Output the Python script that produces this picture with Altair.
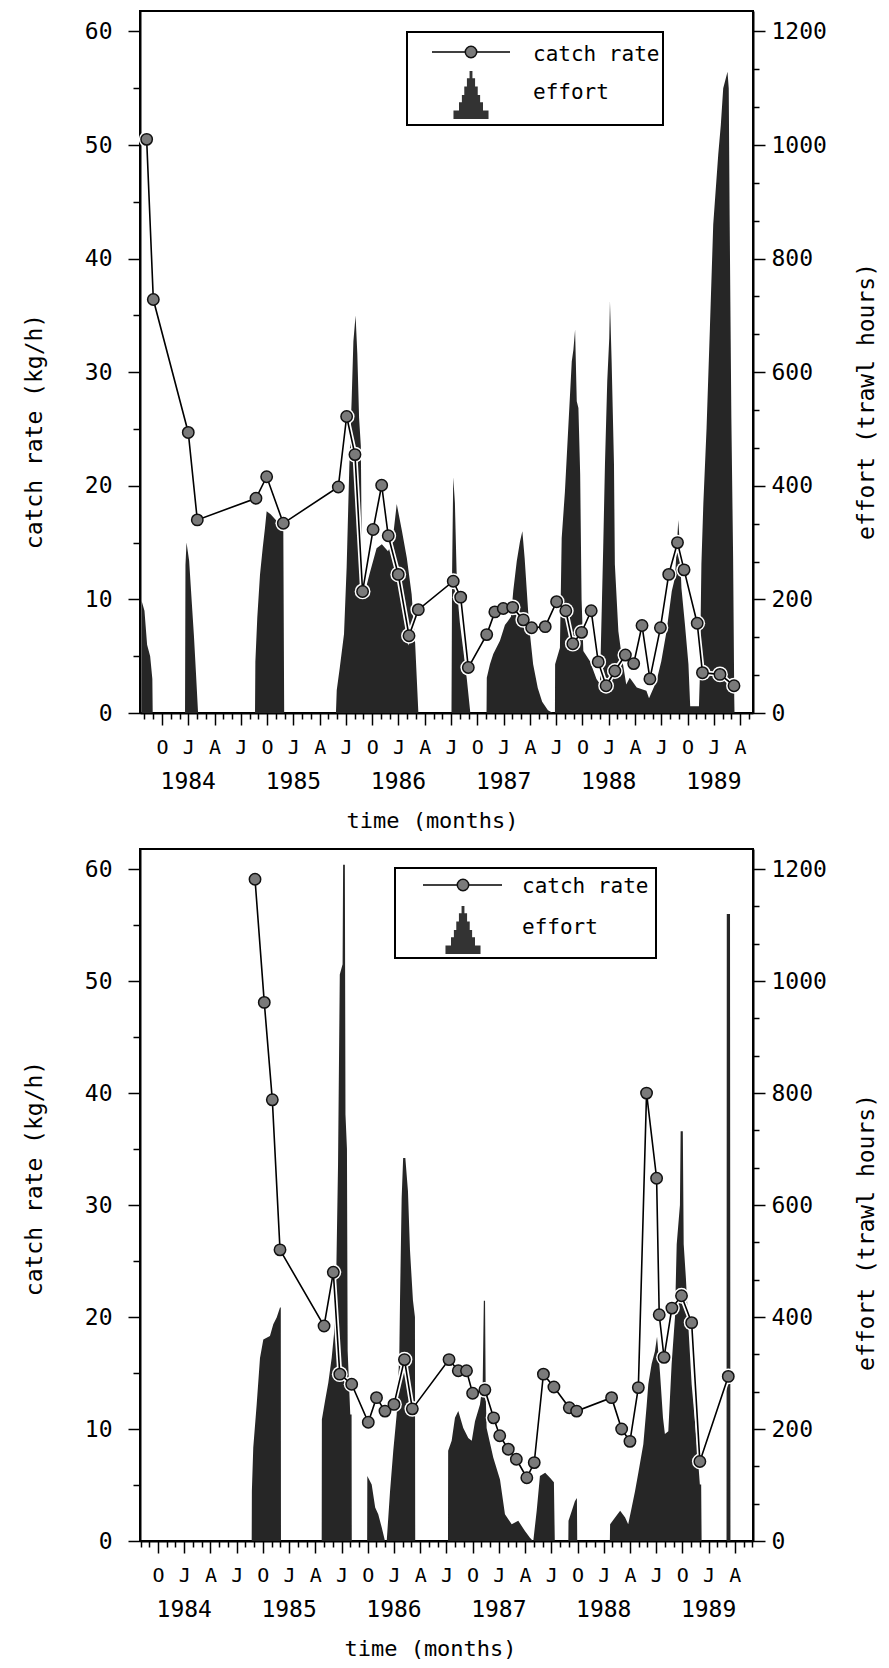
import altair as alt
import pandas as pd

FONT = "DejaVu Sans Mono"

# ---------------- upper panel ----------------
top_catch_t = [-4.75, -3.99, 0.0, 1.03, 7.73, 8.95, 10.85, 17.13, 18.08, 19.03, 19.9, 21.1,
               22.08, 22.83, 23.97, 25.2, 26.26, 30.25, 31.1, 31.97, 34.07, 35.0, 35.96, 37.03,
               38.25, 39.2, 40.75, 42.05, 43.1, 43.9, 44.9, 46.0, 46.8, 47.7, 48.7, 49.9, 50.85,
               51.8, 52.7, 53.9, 54.85, 55.85, 56.6, 58.1, 58.7, 60.7, 62.3]
top_catch = [50.5, 36.4, 24.7, 17.0, 18.9, 20.8, 16.7, 19.9, 26.1, 22.75, 10.7, 16.15,
             20.05, 15.6, 12.2, 6.8, 9.1, 11.6, 10.2, 4.0, 6.9, 8.9, 9.2, 9.3,
             8.2, 7.5, 7.6, 9.8, 9.0, 6.1, 7.1, 9.0, 4.5, 2.4, 3.7, 5.1, 4.35,
             7.7, 3.0, 7.5, 12.2, 15.0, 12.6, 7.9, 3.55, 3.4, 2.4]

top_effort_t = [-5.5, -5.34, -5.32, -5.0, -4.7, -4.35, -4.1, -4.06,
                -0.37, -0.32, -0.2, 0.1, 0.38, 0.65, 0.88, 1.12,
                7.62, 7.66, 7.88, 8.19, 8.5, 8.76, 8.95, 9.4, 10.1, 10.85, 10.95,
                16.86, 16.95, 17.3, 17.78, 18.08, 18.38, 18.65, 18.85, 19.1, 19.3, 19.5, 19.7, 19.85,
                20.2, 20.7, 21.5, 22.1, 22.8, 23.3, 23.8, 24.4, 24.95, 25.5, 25.9, 26.27,
                30.05, 30.12, 30.25, 30.44, 30.63, 30.8, 31.0, 31.4, 31.8, 32.2,
                34.05, 34.08, 34.44, 34.82, 35.58, 36.15, 36.5, 36.85, 37.1, 37.5, 37.87, 38.14,
                38.4, 38.8, 39.0, 39.37, 39.9, 40.4, 41.06, 41.63,
                41.86, 41.88, 42.43, 42.63, 43.0, 43.4, 43.78, 43.97, 44.16, 44.35, 44.54, 44.74,
                44.9, 45.1, 45.86, 46.6, 47.0,
                47.37, 47.57, 47.83, 48.06, 48.14, 48.33, 48.6, 48.7, 49.1, 49.48, 50.0, 50.4,
                51.2, 52.3, 52.6,
                53.45, 54.0, 54.6, 55.2, 55.56, 55.8, 55.94, 56.1, 56.3, 56.7, 57.1, 57.3, 58.3, 58.4,
                58.58, 58.8, 59.17, 59.55, 59.93, 60.5, 60.8, 61.07, 61.56, 61.7, 61.8, 62.0, 62.2,
                62.33, 62.36, 64.5]
top_effort = [0, 0, 197, 180, 120, 100, 60, 0,
              0, 260, 300, 268, 200, 135, 70, 0,
              0, 90, 168, 244, 291, 326, 355, 350, 338, 325, 0,
              0, 40, 80, 139, 256, 431, 550, 654, 700, 632, 520, 470, 215,
              215, 245, 290, 297, 285, 300, 368, 320, 273, 209, 123, 0,
              0, 250, 415, 370, 250, 195, 160, 110, 60, 0,
              0, 62, 86, 104, 127, 155, 162, 170, 215, 267, 302, 320,
              273, 179, 140, 86, 44, 20, 5, 0,
              0, 86, 115, 308, 390, 508, 619, 640, 675, 549, 537, 420,
              200, 109, 91, 60, 51,
              291, 438, 584, 660, 725, 620, 438, 262, 144, 100, 50, 62,
              45, 39, 26,
              56, 91, 144, 215, 238, 300, 340, 300, 220, 156, 86, 12, 12, 62,
              262, 368, 502, 678, 860, 983, 1036, 1100, 1129, 1100, 878, 519, 273,
              26, 0, 0]

# ---------------- lower panel ----------------
bot_catch_t = [8.1, 9.16, 10.08, 10.96, 16.0, 17.06, 17.8, 19.16, 21.06, 22.0, 22.97, 24.0,
               25.2, 26.1, 30.3, 31.36, 32.3, 33.0, 34.4, 35.4, 36.1, 37.08, 38.0, 39.2,
               40.05, 41.1, 42.3, 44.06, 44.9, 48.9, 50.05, 51.0, 51.96, 52.9, 54.05, 54.35,
               54.9, 55.8, 56.9, 58.06, 59.0, 62.25]
bot_catch = [59.1, 48.1, 39.4, 26.0, 19.2, 24.0, 14.9, 14.0, 10.6, 12.8, 11.6, 12.2,
             16.2, 11.8, 16.2, 15.2, 15.2, 13.2, 13.5, 11.0, 9.4, 8.2, 7.3, 5.65,
             7.0, 14.9, 13.75, 11.9, 11.6, 12.8, 10.0, 8.9, 13.7, 40.0, 32.4, 20.2,
             16.4, 20.8, 21.9, 19.5, 7.1, 14.7]

bot_effort_t = [-6.0, 7.72, 7.74, 7.9, 8.29, 8.67, 9.05, 9.81, 10.19, 10.58, 10.96, 11.05, 11.07,
                15.73, 15.75, 16.1, 16.49, 16.87, 17.14, 17.4, 17.6, 17.8, 18.12, 18.18, 18.38,
                18.45, 18.62, 18.7, 19.0, 19.15, 19.17,
                20.93, 20.95, 21.45, 21.85, 22.2, 22.6, 22.97,
                23.17, 23.35, 23.55, 23.92, 24.31, 24.61, 24.69, 24.88, 25.05, 25.3, 25.6, 25.83,
                26.17, 26.4, 26.43,
                30.18, 30.2, 30.6, 30.98, 31.36, 31.93, 32.5, 32.9, 33.27, 33.84, 34.15, 34.28,
                34.42, 34.5, 34.6, 35.36, 36.13, 36.7, 37.47, 38.22, 38.99, 39.56, 39.9,
                39.94, 40.33, 40.7, 41.3, 41.85, 42.3, 42.4,
                43.95, 43.97, 44.35, 44.7, 44.93, 44.97,
                48.7, 48.73, 49.3, 49.88, 50.45, 50.8, 51.2, 51.58, 51.96, 52.53, 52.9, 53.1,
                53.48, 53.86, 54.1, 54.44, 54.78, 55.0, 55.39, 55.77, 56.15, 56.35, 56.72, 56.8,
                57.05, 57.15, 57.4, 57.67, 58.06, 58.63, 59.0, 59.15, 59.2,
                62.05, 62.08, 62.45, 62.5, 65.1]
bot_effort = [0, 0, 89, 167, 244, 327, 360, 366, 387, 399, 417, 417, 0,
              0, 217, 249, 283, 327, 370, 480, 673, 1012, 1030, 1208, 1208,
              762, 700, 340, 226, 226, 0,
              0, 116, 101, 60, 48, 24, 0,
              0, 42, 89, 161, 226, 333, 429, 613, 684, 684, 625, 520,
              430, 400, 0,
              0, 161, 179, 220, 232, 202, 184, 179, 214, 244, 280, 429,
              429, 260, 202, 149, 110, 48, 30, 36, 18, 6, 0,
              0, 54, 116, 122, 113, 105, 0,
              0, 36, 54, 71, 77, 0,
              0, 30, 42, 54, 42, 30, 60, 89, 122, 173, 240, 280,
              316, 339, 365, 300, 220, 191, 196, 316, 399, 530, 600, 732,
              732, 530, 470, 387, 280, 179, 101, 101, 0,
              0, 1120, 1120, 0, 0]

# ---------------- axes / labels ----------------
month_ticks = list(range(-5, 66))
quarter_letters = ["J", "A", "J", "O"]
year_t = [0, 12, 24, 36, 48, 60]
year_labels = ["1984", "1985", "1986", "1987", "1988", "1989"]
catch_ticks = list(range(0, 61, 5))
effort_ticks = [round(k * 200 / 3, 4) for k in range(19)]
legend_labels = ["catch rate", "effort"]

CATCH_MAX = 61.8
EFFORT_MAX = CATCH_MAX * 20

PYRAMID = ("M -0.73 1 L -0.73 0.65 L -0.5 0.65 L -0.5 0.3 L -0.38 0.3 L -0.38 0 "
           "L -0.28 0 L -0.28 -0.35 L -0.17 -0.35 L -0.17 -0.7 L -0.06 -0.7 L -0.06 -1 "
           "L 0.06 -1 L 0.06 -0.7 L 0.17 -0.7 L 0.17 -0.35 L 0.28 -0.35 L 0.28 0 "
           "L 0.38 0 L 0.38 0.3 L 0.5 0.3 L 0.5 0.65 L 0.73 0.65 L 0.73 1 Z")

letters_js = "['" + "','".join(quarter_letters) + "']"
MAJOR_E = "abs(datum.value/200 - round(datum.value/200)) < 0.01"


def panel(ct, cv, et, ev, xdom, W, H, lt_y, rt_y, title_x, lg):
    cdf = pd.DataFrame({"t": ct, "catch": cv})
    edf = pd.DataFrame({"t": et, "effort": ev})
    ydf = pd.DataFrame({"t": year_t, "year": year_labels})
    ticks_in = [v for v in month_ticks if xdom[0] <= v <= xdom[1]]

    x_axis = alt.Axis(
        values=ticks_in, title="time (months)", grid=False, labelAngle=0,
        labelExpr=f"datum.value % 3 == 0 ? {letters_js}[((datum.value % 12) + 12) % 12 / 3] : ''",
        tickSize={"condition": {"test": "datum.value % 3 == 0", "value": 12}, "value": 6},
        tickWidth=1.5, labelPadding=12, labelFontSize=20, labelOverlap=False, labelFlush=False,
        titleFontSize=22, titleX=title_x, titleY=107, titleBaseline="middle", titleAlign="center",
    )
    x = alt.X("t:Q", scale=alt.Scale(domain=xdom, nice=False, zero=False), axis=x_axis)

    yc_axis = alt.Axis(
        values=catch_ticks, orient="left", title="catch rate (kg/h)", grid=False,
        labelExpr="datum.value % 10 == 0 ? datum.label : ''",
        tickSize={"condition": {"test": "datum.value % 10 == 0", "value": 12}, "value": 7},
        tickWidth=1.5, labelPadding=16, labelFontSize=23, labelOverlap=False,
        titleFontSize=23, titleAngle=270, titleX=-106, titleY=lt_y,
        titleBaseline="middle", titleAlign="center",
    )
    ye_axis = alt.Axis(
        values=effort_ticks, orient="right", title="effort (trawl hours)", grid=False,
        labelExpr=f"{MAJOR_E} ? format(round(datum.value), 'd') : ''",
        tickSize={"condition": {"test": MAJOR_E, "value": 12}, "value": 6},
        tickWidth=1.5, labelPadding=6, labelFontSize=23, labelOverlap=False,
        titleFontSize=23, titleAngle=270, titleX=113, titleY=rt_y,
        titleBaseline="middle", titleAlign="center",
    )
    yc = alt.Y("catch:Q", scale=alt.Scale(domain=[0, CATCH_MAX], nice=False), axis=yc_axis)
    ye = alt.Y("effort:Q", scale=alt.Scale(domain=[0, EFFORT_MAX], nice=False), axis=ye_axis)

    effort_layer = alt.Chart(edf).mark_area(color="#262626", interpolate="linear").encode(x=x, y=ye)
    halo = alt.Chart(cdf).mark_line(color="white", strokeWidth=5).encode(x=x, y=yc)
    halo_pts = alt.Chart(cdf).mark_circle(size=250, color="white", opacity=1).encode(x=x, y=yc)
    line = alt.Chart(cdf).mark_line(color="black", strokeWidth=1.6).encode(x=x, y=yc)
    pts = alt.Chart(cdf).mark_circle(size=130, color="#7a7a7a", stroke="#111111",
                                     strokeWidth=1.5, opacity=1).encode(x=x, y=yc)
    catch_layers = alt.layer(halo, halo_pts, line, pts)

    years = alt.Chart(ydf).mark_text(font=FONT, fontSize=23, baseline="middle", align="center",
                                     color="black").encode(x=x, y=alt.value(H + 69), text="year:N")

    (bx0, bx1, by0, by1, lx0, lx1, ly, sx, tx, t1y, py, t2y) = lg
    ldf1 = pd.DataFrame({"label": [legend_labels[0]]})
    ldf2 = pd.DataFrame({"label": [legend_labels[1]]})
    box = alt.Chart(ldf1).mark_rect(fill="white", stroke="black", strokeWidth=2).encode(
        x=alt.value(bx0), x2=alt.value(bx1), y=alt.value(by0), y2=alt.value(by1))
    lrule = alt.Chart(ldf1).mark_rule(color="black", strokeWidth=1.6).encode(
        x=alt.value(lx0), x2=alt.value(lx1), y=alt.value(ly))
    lpt = alt.Chart(ldf1).mark_circle(size=130, color="#7a7a7a", stroke="#111111",
                                      strokeWidth=1.5, opacity=1).encode(x=alt.value(sx), y=alt.value(ly))
    lpyr = alt.Chart(ldf2).mark_point(shape=PYRAMID, filled=True, color="#333333", size=2304,
                                      opacity=1).encode(x=alt.value(sx), y=alt.value(py))
    ltxt1 = alt.Chart(ldf1).mark_text(font=FONT, fontSize=21, align="left", baseline="middle",
                                      color="black").encode(x=alt.value(tx), y=alt.value(t1y), text="label:N")
    ltxt2 = alt.Chart(ldf2).mark_text(font=FONT, fontSize=21, align="left", baseline="middle",
                                      color="black").encode(x=alt.value(tx), y=alt.value(t2y), text="label:N")

    return alt.layer(effort_layer, catch_layers, years, box, lrule, lpt, lpyr, ltxt1, ltxt2
                     ).resolve_scale(y="independent").properties(width=W, height=H)


top = panel(top_catch_t, top_catch, top_effort_t, top_effort, [-5.51, 64.47], 613, 702,
            420, 390, 292,
            (267, 523, 21, 114, 292, 370, 41, 331, 393, 44, 84, 82))
bot = panel(bot_catch_t, bot_catch, bot_effort_t, bot_effort, [-5.06, 65.08], 613, 692,
            329, 383, 290,
            (255, 516, 19, 109, 283, 362, 36, 323, 382, 38, 81, 79))

chart = alt.vconcat(top, bot, spacing=16).properties(
    padding={"left": 14, "top": 2, "right": 0, "bottom": 0},
    background="white",
).configure_view(stroke="black", strokeWidth=2).configure_axis(
    labelFont=FONT, titleFont=FONT, labelColor="black", titleColor="black",
    domainColor="black", domainWidth=2, tickColor="black", titleFontWeight="normal",
)

chart.save("out.html", embed_options={"renderer": "svg", "actions": False})
